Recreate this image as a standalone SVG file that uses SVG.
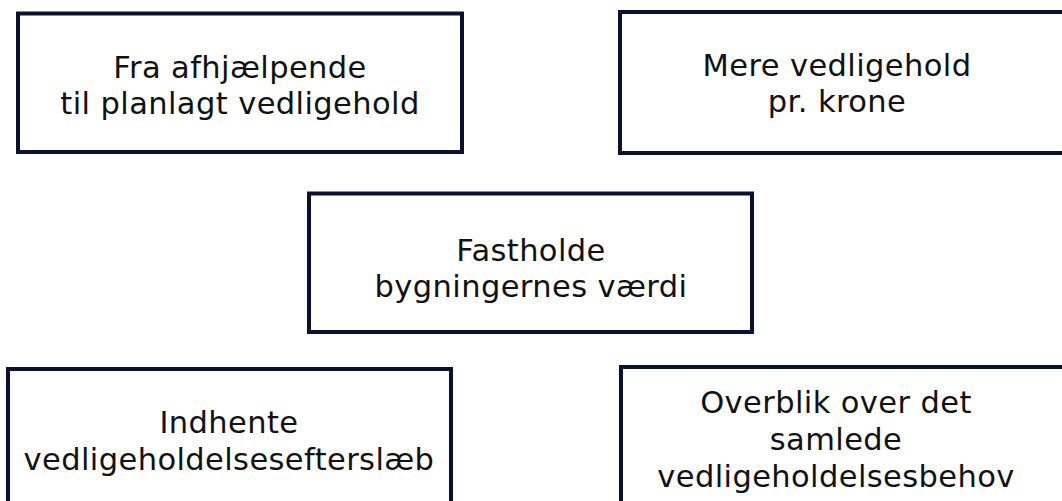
<svg xmlns="http://www.w3.org/2000/svg" width="1062" height="501" viewBox="0 0 1062 501">
<style>
.box{fill:#ffffff;stroke:#0a1232;stroke-width:4}
.lbl{font-family:"DejaVu Sans","Noto Sans",sans-serif;font-size:30.5px;letter-spacing:0.4px;fill:#111111;text-anchor:middle}
</style>
<rect width="1062" height="501" fill="#ffffff"/>
<g id="connectors"></g>
<g id="node-afhjaelpende">
<rect class="box" x="18" y="13.5" width="444" height="138.5"/>
<text class="lbl" x="240" y="78">Fra afhjælpende</text>
<text class="lbl" x="240" y="114">til planlagt vedligehold</text>
</g>
<g id="node-mere">
<rect class="box" x="620" y="12" width="460" height="141"/>
<text class="lbl" x="837" y="76">Mere vedligehold</text>
<text class="lbl" x="837" y="112">pr. krone</text>
</g>
<g id="node-fastholde">
<rect class="box" x="309" y="193.5" width="443" height="138.5"/>
<text class="lbl" x="531" y="261">Fastholde</text>
<text class="lbl" x="531" y="297">bygningernes værdi</text>
</g>
<g id="node-indhente">
<rect class="box" x="8" y="369" width="443" height="160"/>
<text class="lbl" x="229" y="433">Indhente</text>
<text class="lbl" x="229" y="470">vedligeholdelsesefterslæb</text>
</g>
<g id="node-overblik">
<rect class="box" x="621" y="367" width="460" height="160"/>
<text class="lbl" x="836" y="413">Overblik over det</text>
<text class="lbl" x="836" y="450">samlede</text>
<text class="lbl" x="836" y="487">vedligeholdelsesbehov</text>
</g>
</svg>
